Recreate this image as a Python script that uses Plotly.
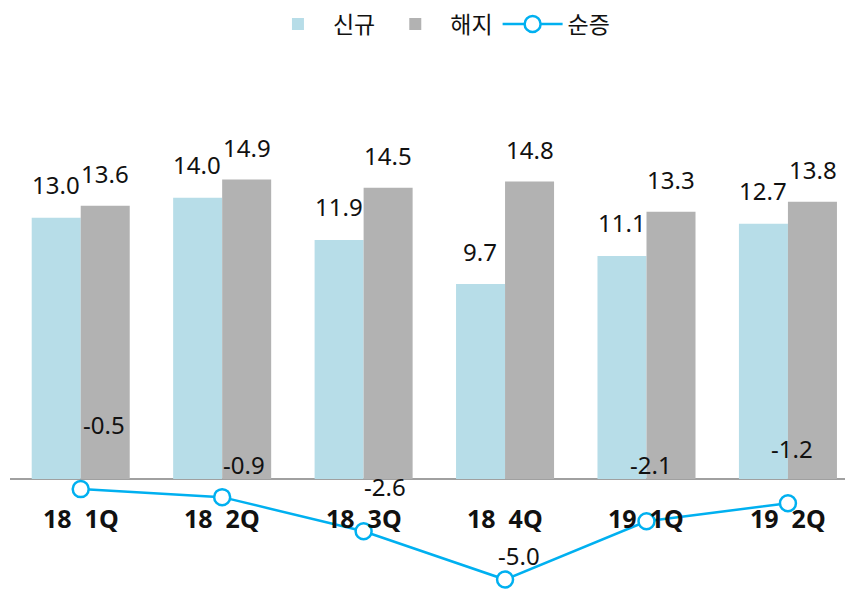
import plotly.graph_objects as go

categories = ["18 1Q", "18 2Q", "18 3Q", "18 4Q", "19 1Q", "19 2Q"]
new_subs = [13.0, 14.0, 11.9, 9.7, 11.1, 12.7]
cancel_subs = [13.6, 14.9, 14.5, 14.8, 13.3, 13.8]
net_adds = [-0.5, -0.9, -2.6, -5.0, -2.1, -1.2]
series_names = ["신규", "해지", "순증"]

# label offsets (pixels) for the net-add labels (style, not data)
net_label_dx = [23, 22, 21, 14, 5, 4]
net_label_dy = [65, 33, 45, 24, 57, 55]

C_NEW = "#B7DDE8"
C_CANCEL = "#B2B2B2"
C_LINE = "#00B0F0"
NUM_FONT = dict(family="Noto Sans, Open Sans, sans-serif", size=24, color="#111111")
CAT_FONT = dict(family="Noto Sans, Open Sans, sans-serif", size=25, color="#111111")

fig = go.Figure()
fig.add_trace(go.Bar(x=categories, y=new_subs, name=series_names[0],
                     marker=dict(color=C_NEW, line=dict(width=0))))
fig.add_trace(go.Bar(x=categories, y=cancel_subs, name=series_names[1],
                     marker=dict(color=C_CANCEL, line=dict(width=0))))
fig.add_trace(go.Scatter(x=categories, y=net_adds, name=series_names[2],
                         mode="lines+markers",
                         line=dict(color=C_LINE, width=2.5),
                         marker=dict(symbol="circle", size=16, color="white",
                                     line=dict(color=C_LINE, width=2.5)),
                         cliponaxis=False))

annotations = []
bar_half = 24.7
for c, v in zip(categories, new_subs):
    annotations.append(dict(x=c, y=v, text=f"{v:.1f}", showarrow=False,
                            xshift=-bar_half, yshift=33, yanchor="middle",
                            font=NUM_FONT))
for c, v in zip(categories, cancel_subs):
    annotations.append(dict(x=c, y=v, text=f"{v:.1f}", showarrow=False,
                            xshift=bar_half, yshift=32, yanchor="middle",
                            font=NUM_FONT))
for c, v, dx, dy in zip(categories, net_adds, net_label_dx, net_label_dy):
    annotations.append(dict(x=c, y=v, text=f"{v:.1f}", showarrow=False,
                            xshift=dx, yshift=dy, yanchor="middle",
                            font=NUM_FONT))
for c in categories:
    label = c.replace(" ", "\u00a0\u00a0")
    annotations.append(dict(x=c, y=0, text=f"<b>{label}</b>", showarrow=False,
                            yshift=-39, yanchor="middle", font=CAT_FONT))

fig.update_layout(
    width=845, height=582,
    margin=dict(l=2, r=0, t=52, b=0),
    paper_bgcolor="white", plot_bgcolor="white",
    barmode="group", bargap=0.307, bargroupgap=0,
    showlegend=True,
    legend=dict(orientation="h", xref="container", yref="container",
                x=0.51, xanchor="center", y=1 - 16 / 582, yanchor="middle",
                font=dict(family="Noto Sans CJK KR, sans-serif", size=23, color="#111111"),
                traceorder="normal", itemwidth=60, bgcolor="rgba(0,0,0,0)"),
    xaxis=dict(type="category", range=[-0.5, 5.46], showticklabels=False,
               showgrid=False, zeroline=False, showline=False, ticks=""),
    yaxis=dict(range=[-5.52, 20.85], showticklabels=False, showgrid=False,
               zeroline=True, zerolinecolor="#A0A0A0", zerolinewidth=2,
               showline=False, ticks=""),
    annotations=annotations,
)

fig.write_html("out.html")
